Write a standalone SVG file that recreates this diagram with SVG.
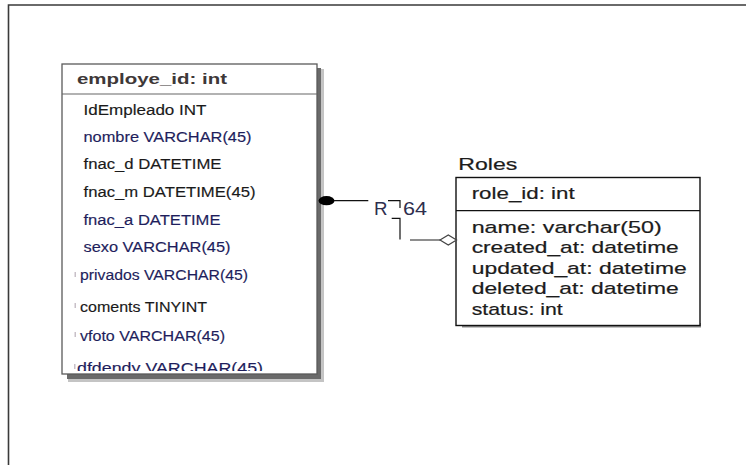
<svg xmlns="http://www.w3.org/2000/svg" width="746" height="465" viewBox="0 0 746 465">
<style>
.frame{fill:none;stroke:#3a3a3a;stroke-width:1.6}
.ebox{fill:#fff;stroke:#5a5a5a;stroke-width:1.3}
.rbox{fill:#fff;stroke:#111;stroke-width:1.4}
.sep{stroke:#666;stroke-width:1.2}
.rsep{stroke:#111;stroke-width:1.2}
.et{font-family:"Liberation Sans",Arial,sans-serif;font-size:14px;fill:#1a1a1a;stroke:#1a1a1a;stroke-width:0.15}
.nv{fill:#1e1e5c;stroke:#1e1e5c}
.eh{font-family:"Liberation Sans",Arial,sans-serif;font-size:14.5px;font-weight:bold;fill:#3e3838}
.rt{font-family:"Liberation Sans",Arial,sans-serif;font-size:17px;fill:#1c1c1c;stroke:#1c1c1c;stroke-width:0.2}
.lbl{font-family:"Liberation Sans",Arial,sans-serif;font-size:18px;fill:#2e2e4e}
.ln{fill:none;stroke:#111;stroke-width:1.2}
.ln2{fill:none;stroke:#444;stroke-width:1.2}
.mk{fill:#c8c0c8}
</style>
<defs>
<clipPath id="ec"><rect x="62" y="95" width="255" height="276"/></clipPath>
</defs>
<rect width="746" height="465" fill="#fff"/>
<path class="frame" d="M8.5,465 V5 H746"/>

<g id="employee">
<rect x="68" y="69" width="256" height="313" fill="#c4c4c4"/>
<rect x="67" y="68" width="254" height="311" fill="#6a6a6a"/>
<rect class="ebox" x="62" y="64" width="255" height="310"/>
<line class="sep" x1="62" y1="94" x2="317" y2="94"/>
<text class="eh" x="77" y="83.5" textLength="150" lengthAdjust="spacingAndGlyphs">employe_id: int</text>
<g clip-path="url(#ec)">
<text class="et" x="83.5" y="115" textLength="123" lengthAdjust="spacingAndGlyphs">IdEmpleado INT</text>
<text class="et nv" x="83.5" y="141.5" textLength="168" lengthAdjust="spacingAndGlyphs">nombre VARCHAR(45)</text>
<text class="et" x="83.5" y="169" textLength="138" lengthAdjust="spacingAndGlyphs">fnac_d DATETIME</text>
<text class="et" x="83.5" y="196.5" textLength="172" lengthAdjust="spacingAndGlyphs">fnac_m DATETIME(45)</text>
<text class="et nv" x="83.5" y="224.5" textLength="137" lengthAdjust="spacingAndGlyphs">fnac_a DATETIME</text>
<text class="et nv" x="83.5" y="252" textLength="147" lengthAdjust="spacingAndGlyphs">sexo VARCHAR(45)</text>
<rect class="mk" x="74.5" y="272" width="1.5" height="5"/>
<text class="et nv" x="80" y="280" textLength="168" lengthAdjust="spacingAndGlyphs">privados VARCHAR(45)</text>
<rect class="mk" x="74.5" y="303" width="1.5" height="5"/>
<text class="et" x="80" y="311.5" textLength="127" lengthAdjust="spacingAndGlyphs">coments TINYINT</text>
<rect class="mk" x="74.5" y="332" width="1.5" height="5"/>
<text class="et nv" x="80" y="341" textLength="145" lengthAdjust="spacingAndGlyphs">vfoto VARCHAR(45)</text>
<rect class="mk" x="74" y="364" width="1.5" height="5"/>
<text class="et nv" x="77" y="373" textLength="186" lengthAdjust="spacingAndGlyphs">dfdendy VARCHAR(45)</text>
</g>
</g>

<g id="roles">
<rect x="462" y="323" width="239" height="4.5" fill="#8a8a8a"/>
<rect class="rbox" x="456" y="177.5" width="244" height="148"/>
<line class="rsep" x1="456" y1="210.7" x2="700" y2="210.7"/>
<text class="rt" x="458.3" y="170" textLength="59" lengthAdjust="spacingAndGlyphs">Roles</text>
<text class="rt" x="471.7" y="199.3" textLength="103" lengthAdjust="spacingAndGlyphs">role_id: int</text>
<text class="rt" x="471.7" y="232.5" textLength="190" lengthAdjust="spacingAndGlyphs">name: varchar(50)</text>
<text class="rt" x="471.7" y="253" textLength="207" lengthAdjust="spacingAndGlyphs">created_at: datetime</text>
<text class="rt" x="471.7" y="273.5" textLength="215" lengthAdjust="spacingAndGlyphs">updated_at: datetime</text>
<text class="rt" x="471.7" y="294" textLength="207" lengthAdjust="spacingAndGlyphs">deleted_at: datetime</text>
<text class="rt" x="471.7" y="315" textLength="91" lengthAdjust="spacingAndGlyphs">status: int</text>
</g>

<g id="connectors">
<ellipse cx="326.5" cy="200.7" rx="8" ry="4.6" fill="#000"/>
<line class="ln" x1="334" y1="200.7" x2="368.3" y2="200.7"/>
<path class="ln" d="M388,200.7 H400 V208"/>
<path class="ln" d="M391.7,218.3 H400 V239.5"/>
<line class="ln2" x1="410" y1="240" x2="440" y2="240"/>
<path d="M440,240 L448.3,235 L456.5,240 L448.3,245 Z" fill="#fff" stroke="#444" stroke-width="1.2"/>
<text class="lbl" x="374" y="215" textLength="13.5" lengthAdjust="spacingAndGlyphs">R</text>
<text class="lbl" x="403" y="215" textLength="24" lengthAdjust="spacingAndGlyphs">64</text>
</g>
</svg>
